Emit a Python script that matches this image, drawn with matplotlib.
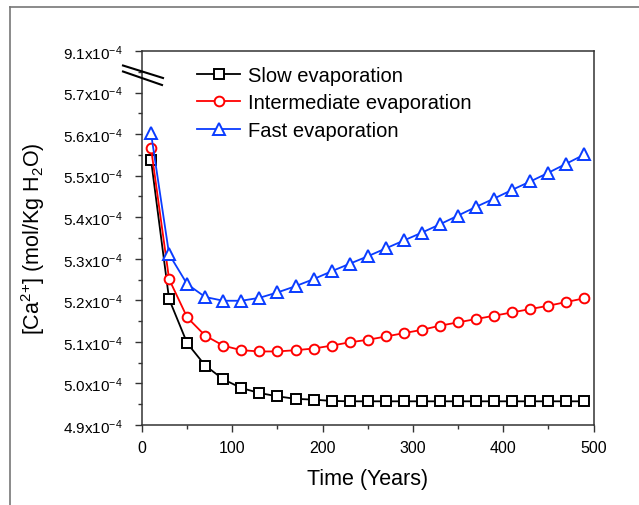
import matplotlib
matplotlib.use("Agg")
import matplotlib.pyplot as plt
from matplotlib.lines import Line2D
from matplotlib.ticker import FixedLocator, FixedFormatter, MultipleLocator

plt.rcParams['font.family'] = ['Liberation Sans', 'DejaVu Sans']
plt.rcParams['mathtext.fontset'] = 'custom'
plt.rcParams['mathtext.rm'] = 'Liberation Sans'
plt.rcParams['mathtext.it'] = 'Liberation Sans:italic'
plt.rcParams['mathtext.bf'] = 'Liberation Sans:bold'

# ---- data (Ca2+ concentration, mol/kg H2O) ----
years = [10, 30, 50, 70, 90, 110, 130, 150, 170, 190, 210, 230, 250,
         270, 290, 310, 330, 350, 370, 390, 410, 430, 450, 470, 490]

slow = [5.538e-4, 5.203e-4, 5.097e-4, 5.043e-4, 5.010e-4, 4.989e-4, 4.977e-4,
        4.969e-4, 4.963e-4, 4.961e-4, 4.958e-4, 4.957e-4, 4.957e-4, 4.957e-4,
        4.957e-4, 4.957e-4, 4.957e-4, 4.957e-4, 4.957e-4, 4.957e-4, 4.957e-4,
        4.957e-4, 4.957e-4, 4.957e-4, 4.957e-4]

intermediate = [5.566e-4, 5.251e-4, 5.159e-4, 5.115e-4, 5.091e-4, 5.080e-4,
                5.077e-4, 5.077e-4, 5.080e-4, 5.084e-4, 5.091e-4, 5.099e-4,
                5.105e-4, 5.113e-4, 5.121e-4, 5.129e-4, 5.139e-4, 5.147e-4,
                5.155e-4, 5.163e-4, 5.171e-4, 5.179e-4, 5.187e-4, 5.196e-4,
                5.205e-4]

fast = [5.602e-4, 5.311e-4, 5.239e-4, 5.208e-4, 5.199e-4, 5.199e-4, 5.206e-4,
        5.219e-4, 5.234e-4, 5.251e-4, 5.270e-4, 5.288e-4, 5.306e-4, 5.325e-4,
        5.344e-4, 5.363e-4, 5.383e-4, 5.404e-4, 5.425e-4, 5.445e-4, 5.466e-4,
        5.486e-4, 5.507e-4, 5.529e-4, 5.551e-4]

series_labels = ["Slow evaporation", "Intermediate evaporation", "Fast evaporation"]

# y axis is broken: the top tick position carries the label 9.1x10^-4
ytick_pos = [4.9e-4, 5.0e-4, 5.1e-4, 5.2e-4, 5.3e-4, 5.4e-4, 5.5e-4, 5.6e-4, 5.7e-4, 5.8e-4]
ytick_labels = ["4.9x10$^{-4}$", "5.0x10$^{-4}$", "5.1x10$^{-4}$", "5.2x10$^{-4}$",
                "5.3x10$^{-4}$", "5.4x10$^{-4}$", "5.5x10$^{-4}$", "5.6x10$^{-4}$",
                "5.7x10$^{-4}$", "9.1x10$^{-4}$"]
xticks = [0, 100, 200, 300, 400, 500]

W, H = 639, 506
fig = plt.figure(figsize=(W / 100, H / 100), dpi=100)
ax = fig.add_axes([142 / W, 1 - 426 / H, (593.5 - 142) / W, (426 - 52) / H])

blue = '#0a3cff'
styles = [
    dict(color='black', marker='s', ms=6.5),
    dict(color='#ff0000', marker='o', ms=7),
    dict(color=blue, marker='^', ms=8),
]
for ys, lab, st in zip([slow, intermediate, fast], series_labels, styles):
    ax.plot(years, ys, color=st['color'], lw=1.3, marker=st['marker'],
            ms=st['ms'], mfc='white', mec=st['color'], mew=1.4, label=lab,
            clip_on=False, zorder=3)

ax.set_xlim(0, 500)
ax.set_ylim(4.9e-4, 5.8e-4)
ax.xaxis.set_major_locator(FixedLocator(xticks))
ax.xaxis.set_minor_locator(MultipleLocator(50))
ax.yaxis.set_major_locator(FixedLocator(ytick_pos))
ax.yaxis.set_major_formatter(FixedFormatter(ytick_labels))
ax.yaxis.set_minor_locator(FixedLocator([v + 0.05e-4 for v in ytick_pos[:-1]]))

ax.tick_params(axis='both', which='both', direction='out', top=False, right=False,
               color='#333333')
ax.tick_params(axis='x', which='major', length=5, width=1, labelsize=11.5, pad=6)
ax.tick_params(axis='x', which='minor', length=3, width=1)
ax.tick_params(axis='y', which='major', length=5, width=1, labelsize=11, pad=9)
ax.tick_params(axis='y', which='minor', length=3, width=1)
for sp in ax.spines.values():
    sp.set_linewidth(1.1)
    sp.set_color('#333333')

ax.set_xlabel("Time (Years)", fontsize=15.5, labelpad=9)
ax.set_ylabel(r"[Ca$^{2{+}}$] (mol/Kg H$_2$O)", fontsize=15.5)
ax.yaxis.set_label_coords((47 - 142) / (593.5 - 142), 0.5)

leg = ax.legend(loc='upper left', bbox_to_anchor=(197 / W, 1 - 67 / H),
                bbox_transform=fig.transFigure, frameon=False, fontsize=14.5,
                borderpad=0, borderaxespad=0, handlelength=2.15,
                handletextpad=0.4, labelspacing=0.42, numpoints=1)

# axis break marks on the left spine
fig.add_artist(Line2D([123 / W, 163 / W], [1 - 66.5 / H, 1 - 79 / H],
                      transform=fig.transFigure, color='black', lw=1.5))
fig.add_artist(Line2D([123 / W, 162 / W], [1 - 72.5 / H, 1 - 86 / H],
                      transform=fig.transFigure, color='black', lw=1.5))

# outer frame of the original figure
fig.add_artist(Line2D([10 / W, 10 / W], [1 - 8 / H, 0], transform=fig.transFigure,
                      color='#777777', lw=1.2))
fig.add_artist(Line2D([10 / W, 1], [1 - 8 / H, 1 - 8 / H], transform=fig.transFigure,
                      color='#777777', lw=1.2))

fig.savefig("out.png", dpi=100)
